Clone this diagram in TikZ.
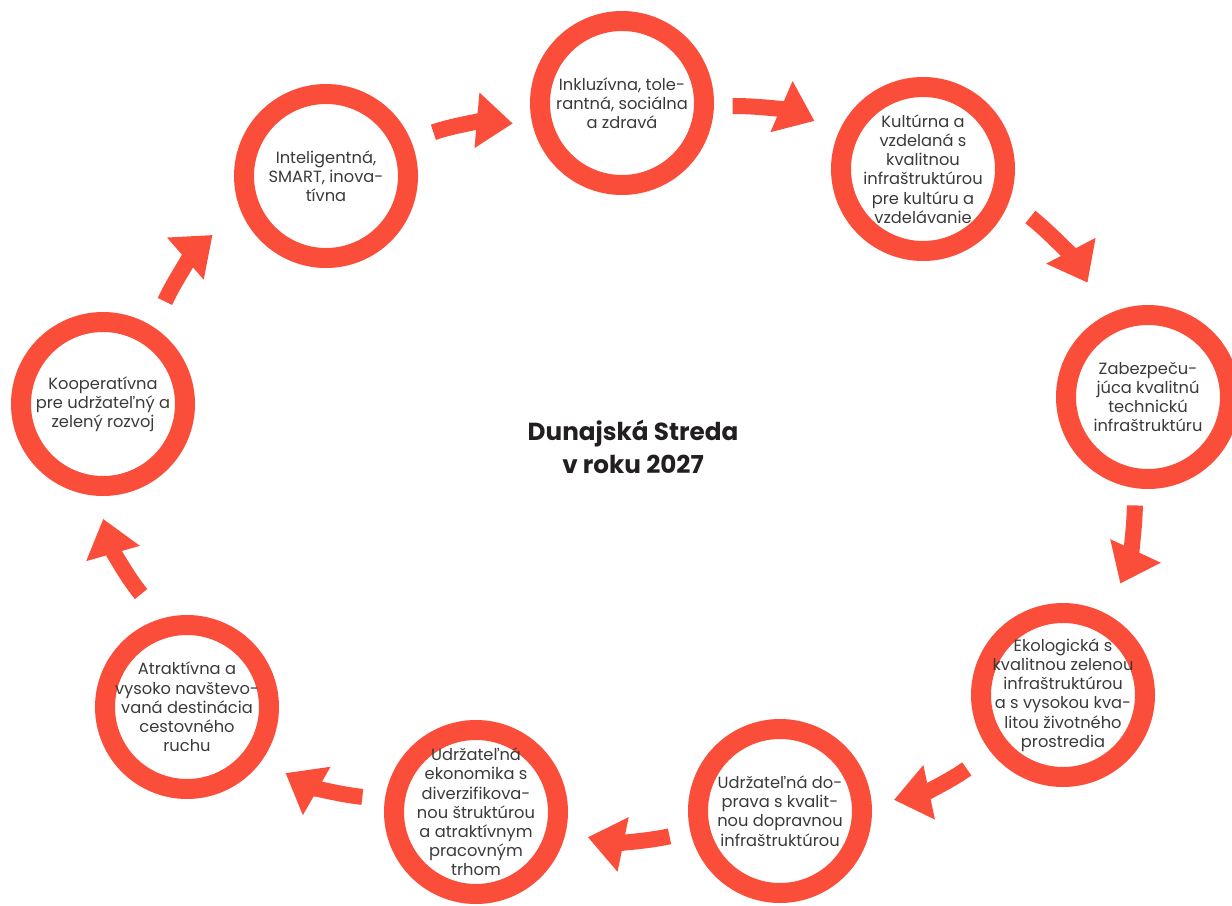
\documentclass[tikz,border=0pt]{standalone}
\usepackage{fontspec}
\setmainfont{Poppins}
\usetikzlibrary{arrows.meta}
\definecolor{ringred}{RGB}{250,78,58}
\definecolor{txtgray}{RGB}{58,58,58}
\definecolor{titleblack}{RGB}{35,31,32}
\begin{document}
\begin{tikzpicture}
[x=0.75pt, y=0.75pt,
 ring/.style={circle, draw=ringred, fill=white, line width=15pt, minimum size=123pt, inner sep=0pt},
 txt/.style={align=center, text=txtgray, inner sep=0pt, font=\fontsize{12.2}{14.4}\selectfont},
 flow/.style={draw=ringred, line width=12pt, -{Triangle[length=27pt, width=40pt]}},
]
\useasboundingbox (0,0) rectangle (1232,-906);

%title
\node[align=center, text=titleblack, font=\fontsize{18.5}{24.5}\selectfont\bfseries] (title) at (633,-447) {Dunajská Streda\\v roku 2027};

%rings
\node[ring] (n1) at (326,-176) {};
\node[txt]  (t1) at (n1) {Inteligentná,\\SMART, inova-\\tívna};

\node[ring] (n2) at (622,-103) {};
\node[txt]  (t2) at (n2) {Inkluzívna, tole-\\rantná, sociálna\\a zdravá};

\node[ring] (n3) at (923,-169) {};
\node[txt]  (t3) at (n3) {Kultúrna a\\vzdelaná s\\kvalitnou\\infraštruktúrou\\pre kultúru a\\vzdelávanie};

\node[ring] (n4) at (1148,-397) {};
\node[txt]  (t4) at (n4) {Zabezpeču-\\júca kvalitnú\\technickú\\infraštruktúru};

\node[ring] (n5) at (1063,-695) {};
\node[txt]  (t5) at (n5) {Ekologická s\\kvalitnou zelenou\\infraštruktúrou\\a s vysokou kva-\\litou životného\\prostredia};

\node[ring] (n6) at (780,-811) {};
\node[txt]  (t6) at (n6) {Udržateľná do-\\prava s kvalit-\\nou dopravnou\\infraštruktúrou};

\node[ring] (n7) at (476,-812) {};
\node[txt]  (t7) at (n7) {Udržateľná\\ekonomika s\\diverzifikova-\\nou štruktúrou\\a atraktívnym\\pracovným\\trhom};

\node[ring] (n8) at (187,-707) {};
\node[txt]  (t8) at (n8) {Atraktívna a\\vysoko navštevo-\\vaná destinácia\\cestovného\\ruchu};

\node[ring] (n9) at (103,-404) {};
\node[txt]  (t9) at (n9) {Kooperatívna\\pre udržateľný a\\zelený rozvoj};

%arrows
\draw[flow, shorten <=18pt, shorten >=15pt] (n1.23)  to[bend left=12] (n2.194);
\draw[flow, shorten <=14pt, shorten >=20pt] (n2.-2)  to[bend left=12] (n3.156);
\draw[flow, shorten <=20pt, shorten >=28pt] (n3.-20) to[bend left=12] (n4.118);
\draw[flow, shorten <=13pt, shorten >=25pt] (n4.262) to[bend left=12] (n5.62);
\draw[flow, shorten <=22pt, shorten >=17pt] (n5.218) to[bend left=12] (n6.4);
\draw[flow, shorten <=16pt, shorten >=17pt] (n6.193) to[bend left=12] (n7.-13);
\draw[flow, shorten <=17pt, shorten >=20pt] (n7.172) to[bend left=12] (n8.-35);
\draw[flow, shorten <=24pt, shorten >=18pt] (n8.106) to[bend left=12] (n9.266);
\draw[flow, shorten <=21pt, shorten >=28pt] (n9.57)  to[bend left=12] (n1.202);

\end{tikzpicture}
\end{document}
